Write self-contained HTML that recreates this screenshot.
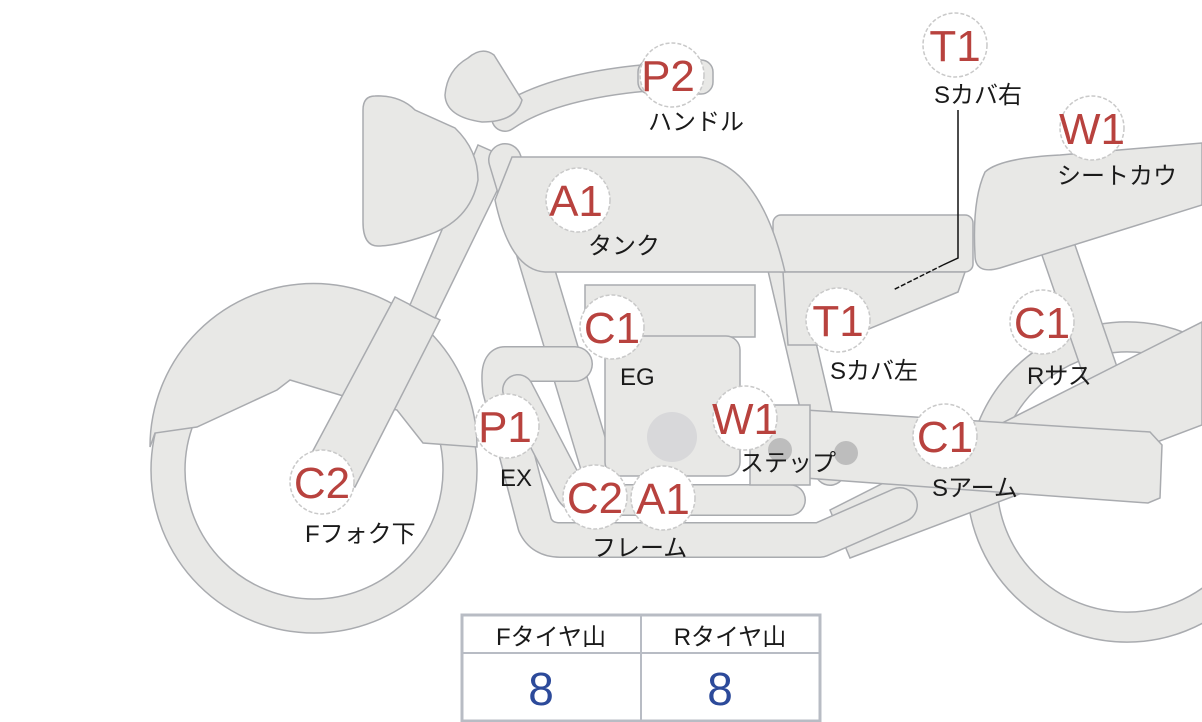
<!DOCTYPE html>
<html><head><meta charset="utf-8"><style>
html,body{margin:0;padding:0;background:#fff;}
svg{display:block;}
.f{fill:#e8e8e6;stroke:#a9abaf;stroke-width:1.5;}
.o{fill:none;stroke:#a9abaf;stroke-linecap:round;stroke-linejoin:round;}
.i{fill:none;stroke:#e8e8e6;stroke-linecap:round;stroke-linejoin:round;}
.c{fill:#fff;stroke:#c9c9c9;stroke-width:1.5;stroke-dasharray:4 2;}
.r{font-family:"Liberation Sans","DejaVu Sans",sans-serif;font-size:44px;fill:#b8423e;text-anchor:middle;}
.k{font-family:"Liberation Sans","Noto Sans CJK JP",sans-serif;font-size:24px;fill:#1a1a1a;}
</style></head><body>
<svg width="1202" height="722" viewBox="0 0 1202 722" xmlns="http://www.w3.org/2000/svg">
<!-- front wheel -->
<path class="f" fill-rule="evenodd" d="M151,470a163,163 0 1,0 326,0a163,163 0 1,0 -326,0Z M185,470a129,129 0 1,0 258,0a129,129 0 1,0 -258,0Z"/>
<!-- front fender -->
<path class="f" d="M150,447 A163,163 0 0,1 477,447 L423,443 L397,410 L340,395 L290,380 L277,390 L197,427 L155,433 Z"/>
<!-- rear wheel -->
<path class="f" fill-rule="evenodd" d="M967,482a160,160 0 1,0 320,0a160,160 0 1,0 -320,0Z M997,482a130,130 0 1,0 260,0a130,130 0 1,0 -260,0Z"/>
<!-- fork -->
<polygon class="f" points="300,475 395,297 440,320 355,487"/>
<polygon class="f" points="410,305 478,145 512,160 435,318"/>
<!-- handlebar -->
<path class="o" stroke-width="28" d="M505,118 Q560,80 690,75"/>
<path class="i" stroke-width="25" d="M505,118 Q560,80 690,75"/>
<rect class="f" x="638" y="60" width="75" height="34" rx="12"/>
<!-- headlight & meter -->
<path class="f" d="M468,58 Q482,46 494,55 L522,100 Q516,122 482,122 Q446,117 445,95 Q447,70 468,58 Z"/>
<path class="f" d="M375,96 Q400,95 415,110 L455,128 Q478,150 478,180 Q470,222 425,236 Q395,246 378,246 Q363,246 363,222 L363,110 Q363,96 375,96 Z"/>
<!-- downtube -->
<path class="o" stroke-width="34" d="M505,160 L598,470"/>
<path class="i" stroke-width="31" d="M505,160 L598,470"/>
<!-- rear frame tube -->
<path class="o" stroke-width="32" d="M780,255 L830,470"/>
<path class="i" stroke-width="29" d="M780,255 L830,470"/>
<!-- shock -->
<path class="o" stroke-width="36" d="M1055,240 L1105,385"/>
<path class="i" stroke-width="33" d="M1055,240 L1105,385"/>
<!-- swingarm band -->
<polygon class="f" points="830,510 1202,322 1202,425 850,558"/>
<!-- seat cowl -->
<path class="f" d="M985,172 Q1000,158 1060,155 L1202,143 L1202,205 L1000,268 Q975,275 975,255 Q972,200 985,172 Z"/>
<!-- seat -->
<rect class="f" x="773" y="215" width="200" height="57" rx="8"/>
<!-- side cover -->
<polygon class="f" points="783,272 965,272 958,292 830,345 788,345"/>
<!-- tank -->
<path class="f" d="M512,157 L700,157 Q760,165 785,272 L545,272 Q510,270 495,200 Z"/>
<!-- exhaust outer -->
<path class="o" stroke-width="36" d="M575,364 L505,364 Q497,364 500,390 L535,525 Q542,540 560,540 L820,540 L900,505"/>
<path class="i" stroke-width="33" d="M575,364 L505,364 Q497,364 500,390 L535,525 Q542,540 560,540 L820,540 L900,505"/>
<!-- exhaust inner -->
<path class="o" stroke-width="32" d="M518,390 L570,490 Q575,500 590,500 L790,500"/>
<path class="i" stroke-width="29" d="M518,390 L570,490 Q575,500 590,500 L790,500"/>
<!-- engine -->
<rect class="f" x="585" y="285" width="170" height="52"/>
<rect class="f" x="605" y="336" width="135" height="140" rx="14"/>
<circle cx="672" cy="437" r="25" fill="#d8d8da"/>
<!-- step / arm -->
<polygon class="f" points="805,410 1150,432 1162,445 1160,498 1148,503 805,478"/>
<rect class="f" x="750" y="405" width="60" height="80"/>
<circle cx="780" cy="450" r="12" fill="#bdbdbd"/>
<circle cx="846" cy="453" r="12" fill="#bdbdbd"/>
<!-- leader -->
<polyline points="958,110 958,258 943,265" fill="none" stroke="#111" stroke-width="1.5"/>
<line x1="943" y1="265" x2="893" y2="290" stroke="#111" stroke-width="1.5" stroke-dasharray="5 2"/>
<!-- circles -->
<g>
<circle class="c" cx="672" cy="75" r="32"/><text class="r" x="668" y="91">P2</text>
<circle class="c" cx="955" cy="45" r="32"/><text class="r" x="955" y="61">T1</text>
<circle class="c" cx="1092" cy="128" r="32"/><text class="r" x="1092" y="144">W1</text>
<circle class="c" cx="578" cy="200" r="32"/><text class="r" x="576" y="216">A1</text>
<circle class="c" cx="612" cy="327" r="32"/><text class="r" x="612" y="343">C1</text>
<circle class="c" cx="838" cy="320" r="32"/><text class="r" x="838" y="336">T1</text>
<circle class="c" cx="1042" cy="322" r="32"/><text class="r" x="1042" y="338">C1</text>
<circle class="c" cx="507" cy="426" r="32"/><text class="r" x="505" y="442">P1</text>
<circle class="c" cx="745" cy="418" r="32"/><text class="r" x="745" y="434">W1</text>
<circle class="c" cx="945" cy="436" r="32"/><text class="r" x="945" y="452">C1</text>
<circle class="c" cx="322" cy="482" r="32"/><text class="r" x="322" y="498">C2</text>
<circle class="c" cx="595" cy="497" r="32"/><text class="r" x="595" y="513">C2</text>
<circle class="c" cx="663" cy="498" r="32"/><text class="r" x="663" y="514">A1</text>
</g>
<!-- labels -->
<text class="k" x="648" y="130">ハンドル</text>
<text class="k" x="934" y="103">Sカバ右</text>
<text class="k" x="1057" y="184">シートカウ</text>
<text class="k" x="588" y="254">タンク</text>
<text class="k" x="620" y="385">EG</text>
<text class="k" x="830" y="379">Sカバ左</text>
<text class="k" x="1027" y="384">Rサス</text>
<text class="k" x="500" y="486">EX</text>
<text class="k" x="740" y="471">ステップ</text>
<text class="k" x="932" y="496">Sアーム</text>
<text class="k" x="305" y="542">Fフォク下</text>
<text class="k" x="592" y="556">フレーム</text>
<!-- table -->
<rect x="462" y="615" width="358" height="106" fill="#fff" stroke="#b8bcc4" stroke-width="3"/>
<line x1="462" y1="653" x2="820" y2="653" stroke="#b8bcc4" stroke-width="2"/>
<line x1="641" y1="615" x2="641" y2="722" stroke="#b8bcc4" stroke-width="2"/>
<text class="k" x="551" y="645" text-anchor="middle">Fタイヤ山</text>
<text class="k" x="730" y="645" text-anchor="middle">Rタイヤ山</text>
<text x="541" y="705" font-family="Liberation Sans,sans-serif" font-size="46" fill="#2c4a9a" text-anchor="middle">8</text>
<text x="720" y="705" font-family="Liberation Sans,sans-serif" font-size="46" fill="#2c4a9a" text-anchor="middle">8</text>
</svg>
</body></html>
